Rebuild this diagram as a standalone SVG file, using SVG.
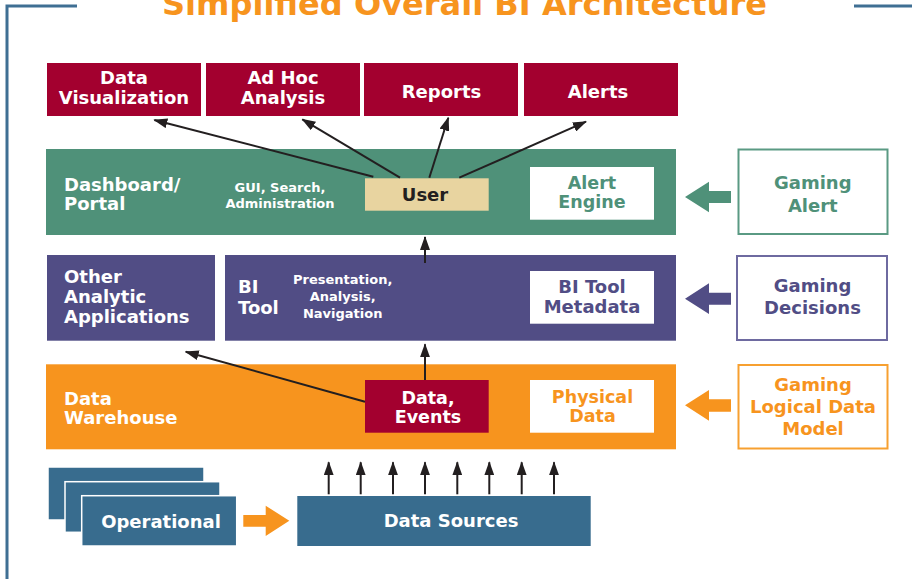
<svg xmlns="http://www.w3.org/2000/svg" width="912" height="579" viewBox="0 0 912 579">
<defs>
<style>
text{font-family:"DejaVu Sans","Verdana","Liberation Sans",sans-serif;font-weight:bold}
.t18{font-size:18px}
.t17{font-size:17.5px}
.t13{font-size:13px}
.w{fill:#ffffff}
.mid{text-anchor:middle}
.red{fill:#A3002F}
.green{fill:#4F9179}
.purple{fill:#514D85}
.orange{fill:#F7941E}
.blue{fill:#386C8E}
.conn{stroke:#231F20;stroke-width:2;fill:none;marker-end:url(#ah)}
</style>
<marker id="ah" viewBox="0 0 14 10" markerWidth="14" markerHeight="10" refX="13" refY="5" orient="auto" markerUnits="userSpaceOnUse">
<path d="M0,0 L14,5 L0,10 z" fill="#231F20"/>
</marker>
</defs>
<rect width="912" height="579" fill="#ffffff"/>
<g id="frame" stroke="#3F6F93" stroke-width="3" fill="none">
<path d="M77,6 L7,6 L7,579"/>
<path d="M854,6 L912,6"/>
</g>
<text id="title" x="464.5" y="15" class="mid" font-size="32" textLength="605" lengthAdjust="spacingAndGlyphs" fill="#F7941E">Simplified Overall BI Architecture</text>

<g id="data-visualization"><rect x="47" y="63" width="154" height="53" class="red"/><text class="t18 w mid" x="124" y="84.3">Data</text><text class="t18 w mid" x="124" y="104.3">Visualization</text></g>
<g id="ad-hoc-analysis"><rect x="206" y="63" width="154" height="53" class="red"/><text class="t18 w mid" x="283" y="84.3">Ad Hoc</text><text class="t18 w mid" x="283" y="104.3">Analysis</text></g>
<g id="reports"><rect x="364" y="63" width="154" height="53" class="red"/><text class="t18 w mid" x="441.5" y="97.7">Reports</text></g>
<g id="alerts"><rect x="524" y="63" width="154" height="53" class="red"/><text class="t18 w mid" x="598" y="97.7">Alerts</text></g>

<g id="dashboard-portal"><rect x="46" y="149" width="630" height="86" class="green"/><text class="t18 w" x="64" y="191">Dashboard/</text><text class="t18 w" x="64" y="210">Portal</text><text class="t13 w mid" x="280" y="191.7">GUI, Search,</text><text class="t13 w mid" x="280" y="207.7">Administration</text></g>
<g id="user"><rect x="365" y="178.3" width="123.7" height="32.4" fill="#E8D4A0"/><text class="t18 mid" x="425" y="201" fill="#231F20">User</text></g>
<g id="alert-engine"><rect x="530" y="167" width="124" height="52.7" fill="#ffffff"/><text class="t17 mid green" x="592" y="189">Alert</text><text class="t17 mid green" x="592" y="208">Engine</text></g>
<g id="gaming-alert"><rect x="738.5" y="149.5" width="149" height="84.5" fill="#ffffff" stroke="#5A9A83" stroke-width="2"/><text class="t18 mid green" x="812.8" y="189">Gaming</text><text class="t18 mid green" x="812.8" y="211.7">Alert</text></g>
<polygon id="green-arrow" class="green" points="685,197 709,181.7 709,191 731,191 731,203 709,203 709,212.3"/>

<g id="other-analytic-applications"><rect x="47" y="255" width="168" height="85.7" class="purple"/><text class="t18 w" x="64" y="282.7">Other</text><text class="t18 w" x="64" y="303.3">Analytic</text><text class="t18 w" x="64" y="323.3">Applications</text></g>
<g id="bi-tool"><rect x="225" y="255" width="451" height="85.7" class="purple"/><text class="t18 w" x="238" y="293.3">BI</text><text class="t18 w" x="238" y="314">Tool</text><text class="t13 w mid" x="342.7" y="284">Presentation,</text><text class="t13 w mid" x="342.7" y="300.7">Analysis,</text><text class="t13 w mid" x="342.7" y="317.7">Navigation</text></g>
<g id="bi-tool-metadata"><rect x="530" y="271" width="124" height="52.7" fill="#ffffff"/><text class="t18 mid purple" x="592" y="293.3">BI Tool</text><text class="t18 mid purple" x="592" y="312.7">Metadata</text></g>
<g id="gaming-decisions"><rect x="737" y="256" width="150" height="84" fill="#ffffff" stroke="#6E6AA0" stroke-width="2"/><text class="t18 mid purple" x="812.5" y="291.7">Gaming</text><text class="t18 mid purple" x="812.5" y="314">Decisions</text></g>
<polygon id="purple-arrow" class="purple" points="685,298.7 709,283.3 709,292.7 731,292.7 731,304.7 709,304.7 709,314"/>

<g id="data-warehouse"><rect x="46" y="364.3" width="630" height="85" class="orange"/><text class="t18 w" x="64" y="405">Data</text><text class="t18 w" x="64" y="424.3">Warehouse</text></g>
<g id="data-events"><rect x="365" y="380" width="123.7" height="52.7" class="red"/><text class="t17 w mid" x="428" y="404">Data,</text><text class="t17 w mid" x="428" y="423">Events</text></g>
<g id="physical-data"><rect x="530" y="380" width="124" height="52.7" fill="#ffffff"/><text class="t17 mid orange" x="592.5" y="402.5">Physical</text><text class="t17 mid orange" x="592.5" y="421.5">Data</text></g>
<g id="gaming-logical-data-model"><rect x="738.5" y="365" width="149" height="83.5" fill="#ffffff" stroke="#F7A030" stroke-width="2"/><text class="t18 mid orange" x="813" y="390.7">Gaming</text><text class="t18 mid orange" x="813" y="412.7">Logical Data</text><text class="t18 mid orange" x="813" y="435">Model</text></g>
<polygon id="orange-arrow" class="orange" points="685,405.3 709,390 709,399.3 731,399.3 731,411.7 709,411.7 709,420.7"/>

<g id="operational" stroke="#ffffff" stroke-width="1.5">
<rect x="48" y="467" width="156" height="53" class="blue"/>
<rect x="65" y="481.7" width="155" height="50.6" class="blue"/>
<rect x="81.7" y="495.7" width="155" height="50.3" class="blue"/>
<text class="t18 w mid" x="161" y="528.3" stroke="none">Operational</text>
</g>
<polygon id="operational-arrow" class="orange" points="243.3,515 265.7,515 265.7,505.7 289.3,520.8 265.7,536 265.7,526.7 243.3,526.7"/>
<g id="data-sources"><rect x="297.3" y="496" width="293.4" height="50" class="blue"/><text class="t18 w mid" x="451" y="526.7">Data Sources</text></g>

<g id="connectors">
<line class="conn" x1="373.3" y1="176.7" x2="154.3" y2="120"/>
<line class="conn" x1="400" y1="177.7" x2="302.3" y2="119.3"/>
<line class="conn" x1="429.3" y1="177.7" x2="448.3" y2="117.7"/>
<line class="conn" x1="459.3" y1="177.7" x2="586" y2="121.7"/>
<line class="conn" x1="425" y1="263" x2="425" y2="237"/>
<line class="conn" x1="425" y1="380" x2="425" y2="344.3"/>
<line class="conn" x1="365" y1="401.7" x2="185.7" y2="351.7"/>
<line class="conn" x1="328.7" y1="494.3" x2="328.7" y2="462.3"/>
<line class="conn" x1="360.7" y1="494.3" x2="360.7" y2="462.3"/>
<line class="conn" x1="393" y1="494.3" x2="393" y2="462.3"/>
<line class="conn" x1="425" y1="494.3" x2="425" y2="462.3"/>
<line class="conn" x1="457.3" y1="494.3" x2="457.3" y2="462.3"/>
<line class="conn" x1="489.3" y1="494.3" x2="489.3" y2="462.3"/>
<line class="conn" x1="521.7" y1="494.3" x2="521.7" y2="462.3"/>
<line class="conn" x1="554" y1="494.3" x2="554" y2="462.3"/>
</g>
</svg>
